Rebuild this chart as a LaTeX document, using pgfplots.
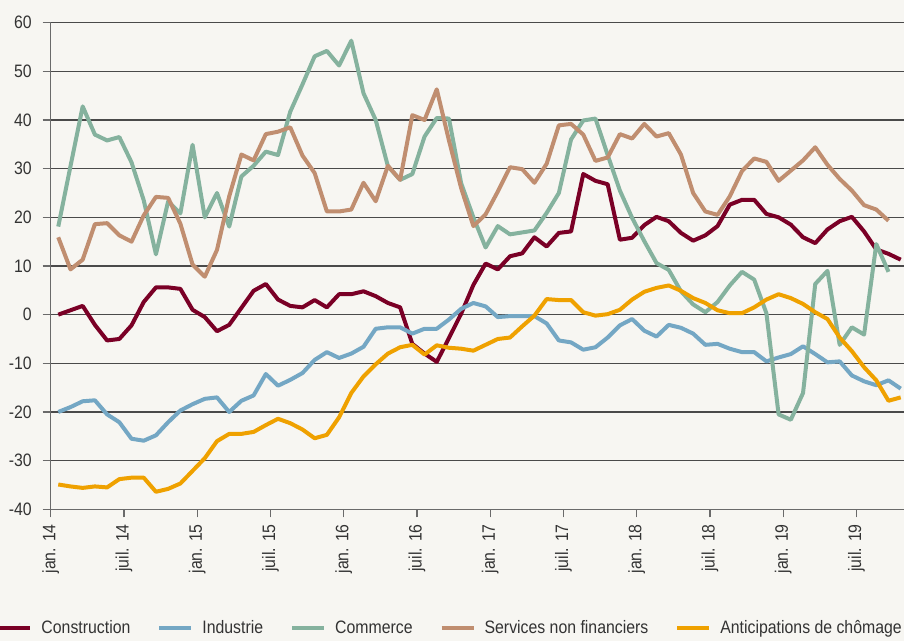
\documentclass[border=0pt]{standalone}
\usepackage{pgfplots}
\pgfplotsset{compat=1.18}
\usepackage{pgfplotstable}
\usepackage{fontspec}
\setmainfont{Liberation Sans}[FakeStretch=0.88]

\definecolor{bg}{HTML}{F7F6F2}
\definecolor{axisgray}{HTML}{6A6A6A}
\definecolor{gridgray}{HTML}{4A4A4A}
\definecolor{labelgray}{HTML}{333333}
\definecolor{cConstr}{HTML}{7A0026}
\definecolor{cIndus}{HTML}{74A7C4}
\definecolor{cComm}{HTML}{85B29E}
\definecolor{cServ}{HTML}{C08E70}
\definecolor{cAntic}{HTML}{EFA100}

\pgfplotsset{myleg/.style={legend image code/.code={\draw[#1, line width=2bp] (0bp,0bp) -- (16bp,0bp);}}}

\pgfplotstableread{
x con ind com ser ant
0 0.0 -20.0 18.1 15.9 -34.9
1 0.9 -19.0 30.5 9.3 -35.3
2 1.8 -17.8 42.8 11.3 -35.6
3 -2.1 -17.6 37.0 18.6 -35.3
4 -5.3 -20.5 35.8 18.8 -35.5
5 -5.0 -22.1 36.5 16.3 -33.8
6 -2.2 -25.5 31.3 15.0 -33.5
7 2.6 -25.9 23.5 20.4 -33.5
8 5.6 -24.8 12.4 24.2 -36.4
9 5.6 -22.1 23.3 24.0 -35.8
10 5.3 -19.7 20.8 18.7 -34.7
11 1.0 -18.4 34.9 10.3 -32.1
12 -0.5 -17.3 20.0 7.8 -29.5
13 -3.4 -17.0 25.0 13.3 -26.0
14 -2.1 -20.0 18.1 24.3 -24.5
15 1.4 -17.7 28.4 32.9 -24.5
16 4.9 -16.6 30.6 31.7 -24.1
17 6.3 -12.2 33.5 37.1 -22.7
18 3.1 -14.6 32.8 37.6 -21.4
19 1.8 -13.4 41.7 38.5 -22.3
20 1.5 -12.0 47.3 32.7 -23.6
21 3.0 -9.3 53.1 29.1 -25.4
22 1.5 -7.7 54.2 21.2 -24.7
23 4.2 -8.9 51.2 21.2 -21.1
24 4.2 -8.0 56.3 21.6 -16.1
25 4.8 -6.6 45.5 27.1 -12.7
26 3.8 -2.9 40.0 23.3 -10.2
27 2.4 -2.6 30.5 30.6 -8.0
28 1.5 -2.6 27.7 27.7 -6.7
29 -6.0 -3.9 28.9 41.0 -6.2
30 -8.0 -2.9 36.6 40.0 -8.2
31 -9.7 -2.9 40.4 46.3 -6.3
32 -4.8 -1.0 40.3 35.8 -6.8
33 0.2 1.2 27.0 26.0 -7.0
34 6.1 2.4 20.0 18.2 -7.4
35 10.5 1.7 13.8 20.6 -6.2
36 9.3 -0.5 18.2 25.3 -5.0
37 12.0 -0.3 16.5 30.3 -4.7
38 12.6 -0.3 16.9 29.9 -2.4
39 15.9 -0.3 17.3 27.1 -0.2
40 14.0 -1.8 20.9 31.0 3.2
41 16.8 -5.3 25.0 38.9 3.0
42 17.1 -5.7 36.0 39.2 3.0
43 28.9 -7.2 39.9 37.0 0.5
44 27.5 -6.7 40.3 31.6 -0.2
45 26.8 -4.7 32.8 32.3 0.1
46 15.4 -2.2 25.5 37.1 1.0
47 15.8 -0.9 19.9 36.2 3.1
48 18.4 -3.3 15.1 39.2 4.7
49 20.1 -4.5 10.6 36.6 5.5
50 19.2 -2.1 9.2 37.3 6.0
51 16.8 -2.7 4.8 32.9 4.9
52 15.2 -3.9 2.1 25.0 3.4
53 16.3 -6.2 0.5 21.2 2.4
54 18.2 -6.0 2.6 20.5 0.9
55 22.6 -7.0 6.0 24.3 0.3
56 23.6 -7.7 8.8 29.5 0.3
57 23.6 -7.7 7.2 32.1 1.5
58 20.7 -9.6 0.3 31.4 3.1
59 20.0 -8.8 -20.5 27.5 4.2
60 18.5 -8.1 -21.6 29.6 3.4
61 15.9 -6.5 -16.1 31.7 2.2
62 14.7 -8.1 6.3 34.4 0.5
63 17.5 -9.8 9.0 30.8 -0.9
64 19.2 -9.6 -6.2 27.9 -4.7
65 20.1 -12.5 -2.6 25.5 -7.5
66 17.1 -13.7 -4.1 22.5 -10.8
67 13.4 -14.5 14.5 21.6 -13.5
68 12.5 -13.5 8.8 19.3 -17.7
69 11.3 -15.2 nan nan -17.0
}\datatable

\begin{document}
\begin{tikzpicture}
\fill[bg] (-25.35bp,-65.85bp) rectangle (426.65bp,254.65bp);
\path[use as bounding box] (-25.35bp,-65.85bp) rectangle (426.65bp,254.65bp);
\begin{axis}[
  at={(0bp,0bp)}, anchor=south west,
  scale only axis, width=426.65bp, height=243.3bp,
  xmin=-0.62, xmax=69.27, ymin=-40, ymax=60,
  axis lines*=left,
  axis line style={draw=axisgray, line width=0.7bp},
  ytick={-40,-30,-20,-10,0,10,20,30,40,50,60},
  xtick={-0.62,5.38,11.38,17.38,23.38,29.38,35.38,41.38,47.38,53.38,59.38,65.38},
  xticklabels={jan. 14, juil. 14, jan. 15, juil. 15, jan. 16, juil. 16, jan. 17, juil. 17, jan. 18, juil. 18, jan. 19, juil. 19},
  ymajorgrids, grid style={draw=gridgray, line width=0.6bp},
  tick align=outside, major tick length=4bp,
  tick style={draw=axisgray, line width=0.7bp},
  tick label style={font=\fontsize{9bp}{11bp}\selectfont, text=labelgray},
  /pgf/number format/assume math mode=true,
  yticklabel style={anchor=east, xshift=-2bp},
  xticklabel style={rotate=90, anchor=east},
  clip=false,
  legend columns=5,
  legend style={at={(-0.064,-0.244)}, anchor=west, draw=none, fill=none,
    inner sep=0pt, nodes={inner sep=0pt, text height=0.72em, text depth=0.2em},
    font=\fontsize{9bp}{11bp}\selectfont, text=labelgray,
    /tikz/every odd column/.append style={column sep=4.5bp},
    /tikz/every even column/.append style={column sep=13.5bp}},
  myleg,
  every axis plot/.append style={line width=2bp, line join=round},
]
\addplot[cConstr] table[x=x, y=con] {\datatable};
\addlegendentry{Construction}
\addplot[cIndus] table[x=x, y=ind] {\datatable};
\addlegendentry{Industrie}
\addplot[cComm] table[x=x, y=com] {\datatable};
\addlegendentry{Commerce}
\addplot[cServ] table[x=x, y=ser] {\datatable};
\addlegendentry{Services non financiers}
\addplot[cAntic] table[x=x, y=ant] {\datatable};
\addlegendentry{Anticipations de chômage}
\end{axis}
\end{tikzpicture}
\end{document}
